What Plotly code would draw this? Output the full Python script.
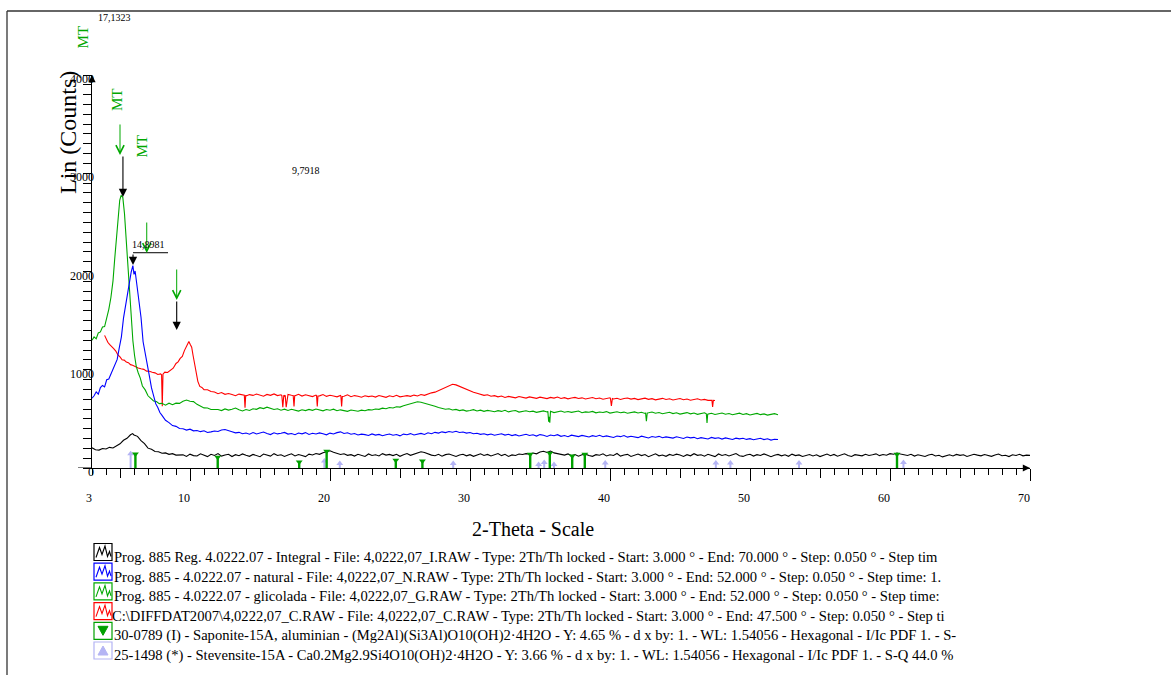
import numpy as np
import plotly.graph_objects as go

# ---------------- DATA ----------------
STEP = 0.25  # sampling of the hand-read tails (deg)

# Integral (black), 3-70 deg
BLACK_PEAK_X = [3.0, 3.25, 3.5, 3.75, 4.0, 4.25, 4.5, 4.75, 5.0, 5.25, 5.5, 5.75, 5.9, 6.0,
                6.25, 6.5, 6.75, 7.0, 7.25, 7.5, 7.75, 8.0, 8.25, 8.5, 8.75, 9.0]
BLACK_PEAK_Y = [205, 186, 182, 199, 194, 210, 204, 228, 246, 282, 302, 338, 350, 336,
                322, 278, 248, 202, 190, 168, 166, 150, 154, 139, 146, 131]
BLACK_TAIL_START = 9.5
BLACK_TAIL_Y = [134, 118, 141, 126, 122, 145, 131, 116, 139, 128, 147, 121, 133, 140, 117, 136, 125, 143, 129, 119,
                138, 124, 115, 142, 130, 121, 146, 127, 135, 118, 132, 144, 123, 137, 128, 116, 141, 133, 148, 139,
                155, 168, 176, 160, 149, 138, 145, 129, 136, 121, 140, 132, 118, 143, 127, 135, 122, 146, 131, 138,
                126, 140, 119, 134, 147, 129, 141, 152, 165, 158, 144, 131, 125, 139, 120, 136, 143, 128, 117, 133,
                140, 124, 136, 119, 131, 145, 127, 138, 122, 134, 147, 126, 139, 118, 133, 128, 142, 137, 146, 141,
                152, 144, 163, 170, 158, 172, 154, 146, 139, 131, 143, 125, 137, 120, 134, 141, 127, 119, 136, 130,
                144, 123, 135, 128, 148, 121, 133, 139, 117, 131, 142, 126, 137, 115, 130, 145, 124, 132, 119, 138,
                127, 141, 133, 118, 136, 124, 146, 129, 135, 120, 139, 131, 116, 143, 128, 137, 122, 134, 147, 125,
                118, 132, 140, 121, 136, 127, 143, 130, 115, 129, 138, 124, 135, 119, 141, 126, 133, 117, 130, 137,
                123, 134, 116, 129, 142, 125, 138, 120, 133, 145, 127, 118, 136, 131, 124, 140, 128, 135, 144, 126,
                137, 130, 146, 140, 152, 143, 135, 128, 139, 121, 134, 126, 117, 132, 140, 123, 129, 113, 127, 135,
                122, 138, 129, 135, 118, 126, 140, 131, 124, 137, 128, 119, 133, 142, 125, 130, 116, 134, 127, 139,
                124, 131, 129]

# natural (blue), 3-52 deg
BLUE_PEAK_X = [3.0, 3.15, 3.3, 3.45, 3.6, 3.75, 3.9, 4.05, 4.2, 4.35,
               4.5, 4.65, 4.8, 4.95, 5.1, 5.25, 5.4, 5.55, 5.7, 5.8,
               5.92, 6.0, 6.08, 6.16, 6.25, 6.35, 6.5, 6.65, 6.8, 6.95,
               7.1, 7.25, 7.4, 7.55, 7.7, 7.85, 8.0, 8.25, 8.5, 8.75,
               9.0, 9.25]
BLUE_PEAK_Y = [710, 735, 775, 752, 818, 840, 826, 898, 906, 955,
               990, 1045, 1105, 1225, 1335, 1525, 1655, 1825, 1945, 1995,
               2060, 1970, 2005, 1920, 1855, 1735, 1535, 1285, 1155, 1035,
               935, 815, 740, 655, 615, 565, 535, 486, 462, 432,
               424, 402]
BLUE_TAIL_START = 9.5
BLUE_TAIL_Y = [400, 386, 395, 378, 382, 370, 379, 361, 368, 377, 372, 386, 391, 376, 369, 358, 363, 349, 356, 344,
               361, 347, 355, 366, 352, 340, 359, 347, 354, 362, 345, 351, 339, 356, 348, 360, 341, 353, 346, 357,
               349, 338, 355, 346, 360, 368, 352, 358, 344, 351, 336, 345, 340, 331, 347, 335, 342, 329, 338, 346,
               333, 341, 327, 345, 338, 350, 336, 347, 352, 341, 358, 349, 363, 355, 368, 360, 372, 364, 374, 362,
               366, 355, 361, 348, 353, 342, 349, 337, 346, 333, 342, 348, 335, 343, 330, 339, 326, 337, 344, 331,
               338, 325, 340, 333, 321, 336, 328, 339, 322, 331, 318, 334, 327, 320, 332, 324, 315, 329, 321, 333,
               318, 327, 322, 311, 326, 319, 330, 314, 323, 316, 309, 324, 317, 306, 320, 313, 322, 308, 317, 311,
               304, 318, 310, 301, 315, 307, 312, 298, 309, 303, 296, 311, 302, 308, 294, 306, 299, 290, 304, 297,
               302, 291, 299, 287, 296, 303, 289, 297, 284, 293, 290]

# glicolada (green), 3-52 deg
GREEN_PEAK_X = [3.0, 3.15, 3.3, 3.45, 3.6, 3.75, 3.9, 4.05, 4.2, 4.35,
                4.5, 4.62, 4.74, 4.86, 4.98, 5.08, 5.2, 5.32, 5.44, 5.56,
                5.68, 5.8, 5.92, 6.04, 6.16, 6.3, 6.45, 6.6, 6.8, 7.0,
                7.2, 7.4, 7.6, 7.8, 8.0, 8.25, 8.5, 8.75, 9.0, 9.25,
                9.5, 9.75, 10.0, 10.25, 10.5, 10.75, 11.0, 11.25, 11.5]
GREEN_PEAK_Y = [1300, 1335, 1315, 1375, 1385, 1435, 1440, 1515, 1615, 1735,
                1905, 2125, 2315, 2525, 2725, 2775, 2755, 2590, 2320, 2010,
                1745, 1495, 1295, 1145, 1035, 970, 915, 835, 795, 735,
                710, 682, 676, 655, 658, 640, 660, 644, 660, 658,
                680, 692, 680, 676, 648, 634, 612, 610, 596]
GREEN_TAIL_START = 12.0
GREEN_TAIL_Y = [596, 584, 601, 589, 598, 610, 592, 580, 595, 586, 603, 597, 614, 605, 619, 608, 596, 603, 588, 599,
                585, 598, 590, 579, 593, 584, 596, 587, 600, 591, 582, 595, 588, 599, 583, 592, 586, 577, 590, 581,
                578, 589, 583, 594, 590, 601, 597, 609, 603, 616, 611, 624, 620, 633, 642, 655, 666, 674, 670, 661,
                650, 636, 628, 615, 607, 598, 603, 590, 596, 584, 591, 579, 586, 594, 581, 589, 577, 586, 580, 573,
                584, 576, 588, 571, 580, 585, 569, 578, 583, 572, 579, 566, 575, 581, 570, 577, 564, 574, 580, 568,
                575, 566, 572, 580, 563, 571, 567, 576, 561, 570, 565, 574, 559, 568, 573, 562, 569, 557, 566, 571,
                560, 567, 555, 563, 570, 558, 565, 552, 561, 567, 554, 562, 549, 558, 564, 551, 559, 546, 556, 562,
                549, 557, 544, 553, 560, 547, 555, 542, 551, 558, 545, 553, 540, 549, 556, 543, 551, 538, 547, 553,
                542]
GREEN_DIP_X = [35.56, 35.62, 35.66, 35.70, 35.74, 42.54, 42.6, 42.66, 46.88, 46.93, 46.98]
GREEN_DIP_Y = [576, 470, 522, 462, 576, 562, 476, 561, 552, 458, 552]

# C.RAW (red), visible 3.9-47.5 deg
RED_PEAK_X = [3.9, 4.0, 4.13, 4.25, 4.4, 4.55, 4.7, 4.85, 5.0, 5.15,
              5.3, 5.45, 5.6, 5.75, 5.9, 6.1, 6.3, 6.5, 6.7, 6.9,
              7.1, 7.3, 7.5, 7.7, 7.9, 7.97, 8.02, 8.07, 8.2, 8.4,
              8.6, 8.8, 9.0, 9.15, 9.3, 9.45, 9.6, 9.72, 9.82, 9.92,
              10.02, 10.12, 10.22, 10.32, 10.42, 10.56, 10.7, 10.85, 11.0, 11.25,
              11.5, 11.75, 12.0, 12.25, 12.5, 12.75]
RED_PEAK_Y = [1350, 1318, 1280, 1258, 1240, 1215, 1190, 1152, 1130, 1102,
              1098, 1078, 1072, 1052, 1046, 1028, 1018, 1010, 1004, 986,
              984, 974, 968, 952, 958, 950, 628, 955, 976, 972,
              996, 1016, 1064, 1080, 1115, 1135, 1195, 1230, 1270, 1288,
              1258, 1230, 1145, 1065, 960, 882, 830, 820, 798, 796,
              778, 774, 756, 768, 750, 758]
RED_TAIL_START = 13.0
RED_TAIL_Y = [748, 736, 752, 741, 733, 747, 739, 753, 744, 731, 749, 740, 754, 737, 745, 732, 748, 741, 735, 750,
              732, 745, 738, 727, 742, 734, 748, 729, 740, 733, 724, 739, 731, 745, 726, 737, 730, 721, 735, 727,
              733, 722, 738, 728, 719, 735, 726, 740, 724, 731, 737, 729, 742, 733, 748, 739, 756, 765, 772, 788,
              804, 822, 838, 852, 846, 830, 818, 801, 790, 771, 760, 748, 739, 745, 730, 736, 724, 733, 718, 729,
              722, 714, 727, 718, 711, 724, 716, 709, 721, 713, 706, 719, 711, 723, 708, 716, 704, 713, 719, 707,
              714, 702, 711, 718, 705, 713, 700, 709, 715, 703, 710, 698, 707, 713, 701, 708, 696, 705, 711, 699,
              706, 694, 703, 709, 697, 705, 692, 701, 707, 695, 702, 690, 699, 704, 692, 698, 688, 684, 687]
RED_DIP_X = [13.88, 13.93, 13.98, 16.56, 16.63, 16.7, 16.8, 16.87, 16.94,
             17.37, 17.43, 17.48, 19.04, 19.09, 19.14, 20.78, 20.83, 20.88,
             40.03, 40.1, 40.17, 47.28, 47.33, 47.38]
RED_DIP_Y = [742, 614, 742, 738, 620, 741, 739, 620, 737,
             739, 627, 740, 735, 627, 733, 731, 627, 729,
             709, 632, 707, 690, 622, 688]

# reference patterns (sticks)
SAP_X = [6.1, 11.98, 17.8, 19.76, 24.7, 26.6, 34.3, 35.7, 37.3, 38.2, 60.5]
SAP_H = [143, 110, 60, 170, 80, 70, 140, 150, 122, 140, 140]
STV_X = [5.76, 19.6, 20.7, 28.8, 34.9, 35.3, 36.0, 39.66, 47.56, 48.6, 53.5, 60.96]
STV_H = [146, 70, 45, 45, 35, 55, 35, 50, 50, 50, 50, 55]

# axes
X_TICK_LABELS = [3, 10, 20, 30, 40, 50, 60, 70]
Y_TICK_LABELS = [0, 1000, 2000, 3000, 4000]

# peak marks
BLACK_ARROW_X = [5.21, 5.93, 9.05]
BLACK_ARROW_Y = [2758, 2066, 1405]
BLACK_ARROW_LEN = [42, 12, 30]
GREEN_ARROW_X = [5.0, 6.91, 9.05]
GREEN_ARROW_Y = [3186, 2188, 1710]
MT_X = [2.32, 4.79, 6.54]
MT_Y = [4387, 3746, 3277]
VALUE_TEXT = ["17,1323", "14,8981", "9,7918"]
VALUE_X = [4.64, 7.0, 18.29]
VALUE_Y = [4590, 2270, 3023]
BAR_X = [5.93, 8.43]
BAR_Y = 2191

LEGEND_TEXT = [
    "Prog. 885 Reg. 4.0222.07 - Integral - File: 4,0222,07_I.RAW - Type: 2Th/Th locked - Start: 3.000 ° - End: 70.000 ° - Step: 0.050 ° - Step tim",
    "Prog. 885 - 4.0222.07 - natural - File: 4,0222,07_N.RAW - Type: 2Th/Th locked - Start: 3.000 ° - End: 52.000 ° - Step: 0.050 ° - Step time: 1.",
    "Prog. 885 - 4.0222.07 - glicolada - File: 4,0222,07_G.RAW - Type: 2Th/Th locked - Start: 3.000 ° - End: 52.000 ° - Step: 0.050 ° - Step time:",
    "C:\\DIFFDAT2007\\4,0222,07_C.RAW - File: 4,0222,07_C.RAW - Type: 2Th/Th locked - Start: 3.000 ° - End: 47.500 ° - Step: 0.050 ° - Step ti",
    "30-0789 (I) - Saponite-15A, aluminian - (Mg2Al)(Si3Al)O10(OH)2·4H2O - Y: 4.65 % - d x by: 1. - WL: 1.54056 - Hexagonal - I/Ic PDF 1. - S-",
    "25-1498 (*) - Stevensite-15A - Ca0.2Mg2.9Si4O10(OH)2·4H2O - Y: 3.66 % - d x by: 1. - WL: 1.54056 - Hexagonal - I/Ic PDF 1. - S-Q 44.0 %",
]

# ---------------- STYLE ----------------
C_BLACK, C_BLUE, C_GREEN, C_RED = "#000000", "#0000ff", "#00a800", "#ff0000"
C_SAP, C_STV = "#00a000", "#b4b4f4"
FONT = "Liberation Serif"
W, H = 1171, 675
PL, PR, PT, PB = 92, 1030, 75, 468   # plot area in page pixels
X0, X1, Y0, Y1 = 3, 70, 0, 4000


def pxx(x):
    return (x - PL) / (PR - PL)


def pxy(y):
    return (PB - y) / (PB - PT)


def dx2paper(v):
    return (v - X0) / (X1 - X0)


def dy2paper(v):
    return (v - Y0) / (Y1 - Y0)


def series(px, py, tail_start, tail_y, dx=(), dy=()):
    tx = tail_start + STEP * np.arange(len(tail_y))
    x = np.concatenate([np.array(px, float), tx, np.array(dx, float)])
    y = np.concatenate([np.array(py, float), np.array(tail_y, float), np.array(dy, float)])
    o = np.argsort(x, kind="stable")
    return x[o], y[o]


fig = go.Figure()
for (px_, py_, ts, ty, dx, dy, col) in [
    (RED_PEAK_X, RED_PEAK_Y, RED_TAIL_START, RED_TAIL_Y, RED_DIP_X, RED_DIP_Y, C_RED),
    (GREEN_PEAK_X, GREEN_PEAK_Y, GREEN_TAIL_START, GREEN_TAIL_Y, GREEN_DIP_X, GREEN_DIP_Y, C_GREEN),
    (BLUE_PEAK_X, BLUE_PEAK_Y, BLUE_TAIL_START, BLUE_TAIL_Y, (), (), C_BLUE),
    (BLACK_PEAK_X, BLACK_PEAK_Y, BLACK_TAIL_START, BLACK_TAIL_Y, (), (), C_BLACK),
]:
    x, y = series(px_, py_, ts, ty, dx, dy)
    fig.add_trace(go.Scatter(x=x, y=y, mode="lines", line=dict(color=col, width=1.1),
                             hoverinfo="skip", showlegend=False))


def sticks(xs, hs):
    sx, sy = [], []
    for a, h in zip(xs, hs):
        sx += [a, a, None]
        sy += [0, h, None]
    return sx, sy


sx, sy = sticks(STV_X, STV_H)
fig.add_trace(go.Scatter(x=sx, y=sy, mode="lines", line=dict(color=C_STV, width=2),
                         hoverinfo="skip", showlegend=False))
fig.add_trace(go.Scatter(x=STV_X, y=STV_H, mode="markers",
                         marker=dict(symbol="triangle-up", size=6, color=C_STV),
                         hoverinfo="skip", showlegend=False))
sx, sy = sticks(SAP_X, SAP_H)
fig.add_trace(go.Scatter(x=sx, y=sy, mode="lines", line=dict(color=C_SAP, width=2.4),
                         hoverinfo="skip", showlegend=False))
fig.add_trace(go.Scatter(x=SAP_X, y=SAP_H, mode="markers",
                         marker=dict(symbol="triangle-down", size=6, color=C_SAP),
                         hoverinfo="skip", showlegend=False))
# dummy trace carrying the 5-degree tick axis
fig.add_trace(go.Scatter(x=[3], y=[0], xaxis="x2", mode="markers",
                         marker=dict(opacity=0), hoverinfo="skip", showlegend=False))

ann = []
shapes = []

# axis tick labels
for v in X_TICK_LABELS:
    ann.append(dict(x=v, y=pxy(498), xref="x", yref="paper", text=str(v), showarrow=False,
                    xanchor="right", yanchor="middle", xshift=2,
                    font=dict(family=FONT, size=12, color="black")))
for v in Y_TICK_LABELS:
    ann.append(dict(x=0, y=v, xref="paper", yref="y", text=str(v), showarrow=False,
                    xanchor="right", yanchor="middle", xshift=4, yshift=-4,
                    font=dict(family=FONT, size=12, color="black")))

# axis titles
ann.append(dict(x=pxx(533), y=pxy(529), xref="paper", yref="paper", text="2-Theta - Scale",
                showarrow=False, xanchor="center", yanchor="middle",
                font=dict(family=FONT, size=20, color="black")))
ann.append(dict(x=pxx(68), y=pxy(133), xref="paper", yref="paper", text="Lin (Counts)",
                showarrow=False, xanchor="center", yanchor="middle", textangle=-90,
                font=dict(family=FONT, size=24, color="black")))

# axis arrow heads
ann.append(dict(x=0, y=1, xref="paper", yref="paper", ax=0, ay=8, text="", showarrow=True,
                arrowhead=2, arrowsize=1.2, arrowwidth=1.2, arrowcolor="black"))
ann.append(dict(x=1, y=0, xref="paper", yref="paper", ax=-8, ay=0, text="", showarrow=True,
                arrowhead=2, arrowsize=1.2, arrowwidth=1.2, arrowcolor="black"))

# peak marks
for x, y, ln in zip(BLACK_ARROW_X, BLACK_ARROW_Y, BLACK_ARROW_LEN):
    ann.append(dict(x=x, y=y, xref="x", yref="y", ax=0, ay=-ln, text="", showarrow=True,
                    arrowhead=2, arrowsize=1.5, arrowwidth=1.1, arrowcolor="black"))
for x, y in zip(GREEN_ARROW_X, GREEN_ARROW_Y):
    ann.append(dict(x=x, y=y, xref="x", yref="y", ax=0, ay=-32, text="", showarrow=True,
                    arrowhead=5, arrowsize=1.6, arrowwidth=1, arrowcolor=C_GREEN))
# labels may sit outside the axis ranges, so place them on paper coordinates
for x, y in zip(MT_X, MT_Y):
    ann.append(dict(x=dx2paper(x), y=dy2paper(y), xref="paper", yref="paper", text="MT",
                    showarrow=False, textangle=-90, xanchor="center", yanchor="middle",
                    font=dict(family=FONT, size=15, color=C_GREEN)))
for t, x, y in zip(VALUE_TEXT, VALUE_X, VALUE_Y):
    ann.append(dict(x=dx2paper(x), y=dy2paper(y), xref="paper", yref="paper", text=t,
                    showarrow=False, xanchor="center", yanchor="middle",
                    font=dict(family=FONT, size=10, color="black")))
shapes.append(dict(type="line", xref="x", yref="y", x0=BAR_X[0], x1=BAR_X[1], y0=BAR_Y, y1=BAR_Y,
                   line=dict(color="black", width=1)))

# longer zero tick on the y axis
shapes.append(dict(type="line", xref="paper", yref="y", x0=pxx(78), x1=0, y0=0, y1=0,
                   line=dict(color="black", width=1)))

# frame
shapes.append(dict(type="line", xref="paper", yref="paper", x0=pxx(7), x1=pxx(1171),
                   y0=pxy(11), y1=pxy(11), line=dict(color="#333333", width=1.3)))
shapes.append(dict(type="line", xref="paper", yref="paper", x0=pxx(7), x1=pxx(7),
                   y0=pxy(11), y1=pxy(676), line=dict(color="#333333", width=1.3)))

# legend
icon_cols = [C_BLACK, C_BLUE, C_GREEN, C_RED, C_SAP, C_STV]
for i, (txt, col) in enumerate(zip(LEGEND_TEXT, icon_cols)):
    cy = 557 + i * 19.7
    bx0, bx1, by0, by1 = 94, 112, cy - 13.5, cy + 3.5
    shapes.append(dict(type="rect", xref="paper", yref="paper", x0=pxx(bx0), x1=pxx(bx1),
                       y0=pxy(by1), y1=pxy(by0), line=dict(color=col, width=1.2),
                       fillcolor="rgba(0,0,0,0)"))
    if i < 4:
        pts = [(2, 14), (5.5, 4), (8, 11), (11, 2.5), (13.5, 13), (15.5, 8), (17, 13)]
        path = "M " + " L ".join(f"{pxx(bx0 + a):.5f},{pxy(by0 + b):.5f}" for a, b in pts)
        shapes.append(dict(type="path", xref="paper", yref="paper", path=path,
                           line=dict(color=col, width=1.1)))
    elif i == 4:
        pts = [(4, 4), (14, 4), (9, 13)]
        path = "M " + " L ".join(f"{pxx(bx0 + a):.5f},{pxy(by0 + b):.5f}" for a, b in pts) + " Z"
        shapes.append(dict(type="path", xref="paper", yref="paper", path=path,
                           line=dict(color=col, width=1), fillcolor=col))
    else:
        pts = [(4, 13), (14, 13), (9, 4)]
        path = "M " + " L ".join(f"{pxx(bx0 + a):.5f},{pxy(by0 + b):.5f}" for a, b in pts) + " Z"
        shapes.append(dict(type="path", xref="paper", yref="paper", path=path,
                           line=dict(color=col, width=1), fillcolor=col))
    tx = 110 if i == 3 else 112
    ann.append(dict(x=pxx(tx), y=pxy(cy), xref="paper", yref="paper", text=txt,
                    showarrow=False, xanchor="left", yanchor="middle",
                    font=dict(family=FONT, size=14.6, color="black")))

fig.update_layout(
    width=W, height=H,
    margin=dict(l=PL, r=W - PR, t=PT, b=H - PB, pad=0),
    paper_bgcolor="white", plot_bgcolor="white",
    showlegend=False, hovermode=False,
    xaxis=dict(range=[X0, X1], showgrid=False, zeroline=False, showline=True,
               linecolor="black", linewidth=1, ticks="outside", ticklen=12, tickwidth=1,
               tickcolor="black", tick0=0, dtick=10, showticklabels=False,
               minor=dict(ticks="outside", ticklen=6, tickwidth=1, tickcolor="black",
                          tick0=0, dtick=1, showgrid=False)),
    xaxis2=dict(range=[X0, X1], overlaying="x", anchor="y", side="bottom", showgrid=False,
                zeroline=False, showline=False, ticks="outside", ticklen=9, tickwidth=1,
                tickcolor="black", tick0=0, dtick=5, showticklabels=False),
    yaxis=dict(range=[Y0, Y1], showgrid=False, zeroline=False, showline=True,
               linecolor="black", linewidth=1, ticks="outside", ticklen=8, tickwidth=1,
               tickcolor="black", tick0=0, dtick=100, showticklabels=False),
    annotations=ann, shapes=shapes,
)

fig.write_html("out.html")
